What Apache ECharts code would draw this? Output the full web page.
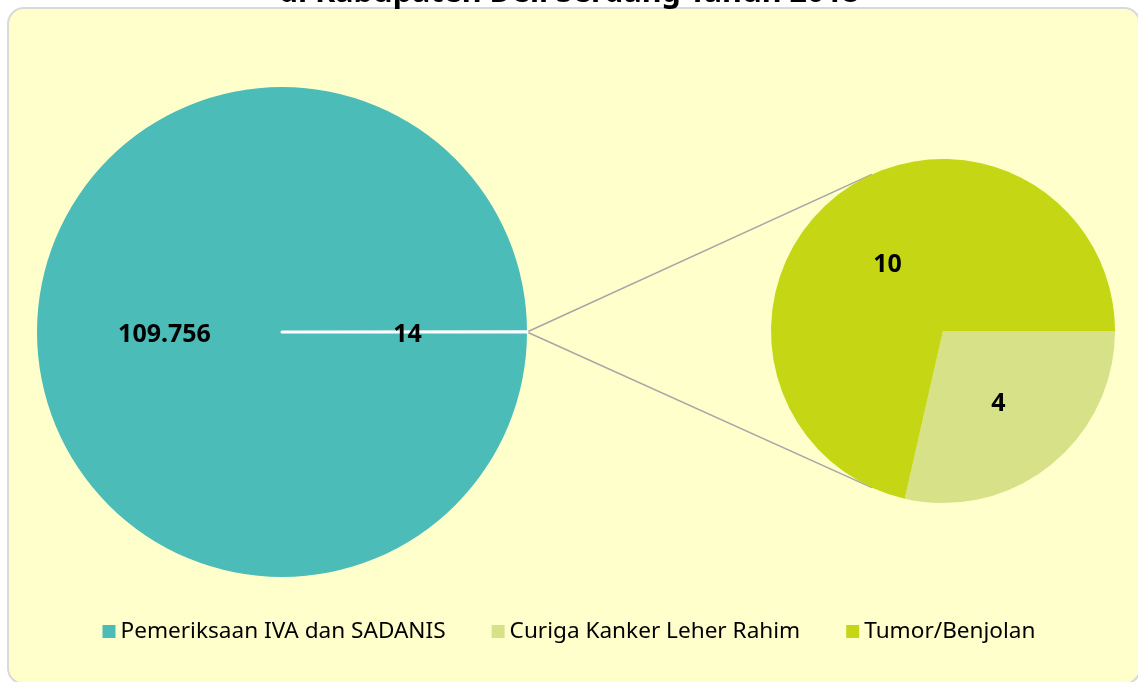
<!DOCTYPE html>
<html>
<head>
<meta charset="utf-8">
<script src="https://cdn.jsdelivr.net/npm/echarts@6/dist/echarts.min.js"></script>
<style>
  html, body { margin: 0; padding: 0; background: #ffffff; }
  #chart { width: 1138px; height: 682px; }
</style>
</head>
<body>
<div id="chart"></div>
<script>
// Main pie: screening total vs. the combined findings
const mainCategories = ['Pemeriksaan IVA dan SADANIS', 'Temuan'];
const mainValues = [109756, 14];
// Breakdown of the findings
const detailCategories = ['Curiga Kanker Leher Rahim', 'Tumor/Benjolan'];
const detailValues = [4, 10];
const legendNames = ['Pemeriksaan IVA dan SADANIS', 'Curiga Kanker Leher Rahim', 'Tumor/Benjolan'];
const titleText = 'di Kabupaten Deli Serdang Tahun 2018';

const colors = {
  'Pemeriksaan IVA dan SADANIS': '#4BBCB8',
  'Curiga Kanker Leher Rahim': '#D6E188',
  'Tumor/Benjolan': '#C4D614'
};

// pie geometry (pixels)
const c1 = [282, 332], r1 = 245;
const c2 = [943, 331], r2 = 172;

const fmt = v => String(v).replace(/\B(?=(\d{3})+(?!\d))/g, '.');
const font = "'Noto Sans', 'Open Sans', sans-serif";

// connector lines: tangents from the main pie's edge to the detail pie
const p0 = [c1[0] + r1, c1[1]];
const d = c2[0] - p0[0];
const alpha = Math.acos(r2 / d);
const tUp = [c2[0] - r2 * Math.cos(alpha), c2[1] - r2 * Math.sin(alpha)];
const tDn = [c2[0] - r2 * Math.cos(alpha), c2[1] + r2 * Math.sin(alpha)];

const chart = echarts.init(document.getElementById('chart'), null, { renderer: 'canvas' });

// the small slice comes last so it closes the circle on the right and its
// white outline is painted over the large slice
const mainData = mainCategories.map((n, i) => {
  if (i === 0) return { name: n, value: mainValues[i], itemStyle: { color: colors[n] }, label: { offset: [8, 3] } };
  return { name: n, value: mainValues[i], itemStyle: { color: '#ffffff', borderColor: '#ffffff', borderWidth: 3 } };
});

const detailData = detailCategories.map((n, i) => ({
  name: n, value: detailValues[i], itemStyle: { color: colors[n] }
}));

const labelStyle = {
  position: 'inside',
  formatter: p => fmt(p.value),
  fontFamily: font, fontWeight: 'bold', fontSize: 25, color: '#000',
  offset: [0, 3]
};

chart.setOption({
  animation: false,
  backgroundColor: '#ffffff',
  title: {
    text: titleText,
    left: 'center',
    top: -27,
    textStyle: { fontFamily: font, fontWeight: 'bold', fontSize: 30.5, color: '#000' }
  },
  legend: {
    data: legendNames,
    bottom: 34,
    left: 'center',
    icon: 'rect',
    itemWidth: 13,
    itemHeight: 13,
    itemGap: 46,
    textStyle: { fontFamily: font, fontSize: 22.6, color: '#000' }
  },
  graphic: [
    {
      type: 'rect', z: -10, silent: true,
      shape: { x: 8, y: 8, width: 1132, height: 676, r: 16 },
      style: { fill: '#FFFFCC', stroke: '#D9D9D9', lineWidth: 2 }
    },
    {
      type: 'line', z: 1, silent: true,
      shape: { x1: p0[0], y1: p0[1], x2: tUp[0], y2: tUp[1] },
      style: { stroke: '#A6A6A6', lineWidth: 1.5 }
    },
    {
      type: 'line', z: 1, silent: true,
      shape: { x1: p0[0], y1: p0[1], x2: tDn[0], y2: tDn[1] },
      style: { stroke: '#A6A6A6', lineWidth: 1.5 }
    }
  ],
  series: [
    {
      type: 'pie',
      center: c1,
      radius: [0, r1],
      startAngle: 0,
      clockwise: true,
      silent: true,
      emphasis: { disabled: true },
      label: labelStyle,
      labelLine: { show: false },
      data: mainData
    },
    {
      type: 'pie',
      center: c2,
      radius: [0, r2],
      startAngle: 0,
      clockwise: true,
      silent: true,
      emphasis: { disabled: true },
      label: labelStyle,
      labelLine: { show: false },
      data: detailData
    }
  ]
});
</script>
</body>
</html>
